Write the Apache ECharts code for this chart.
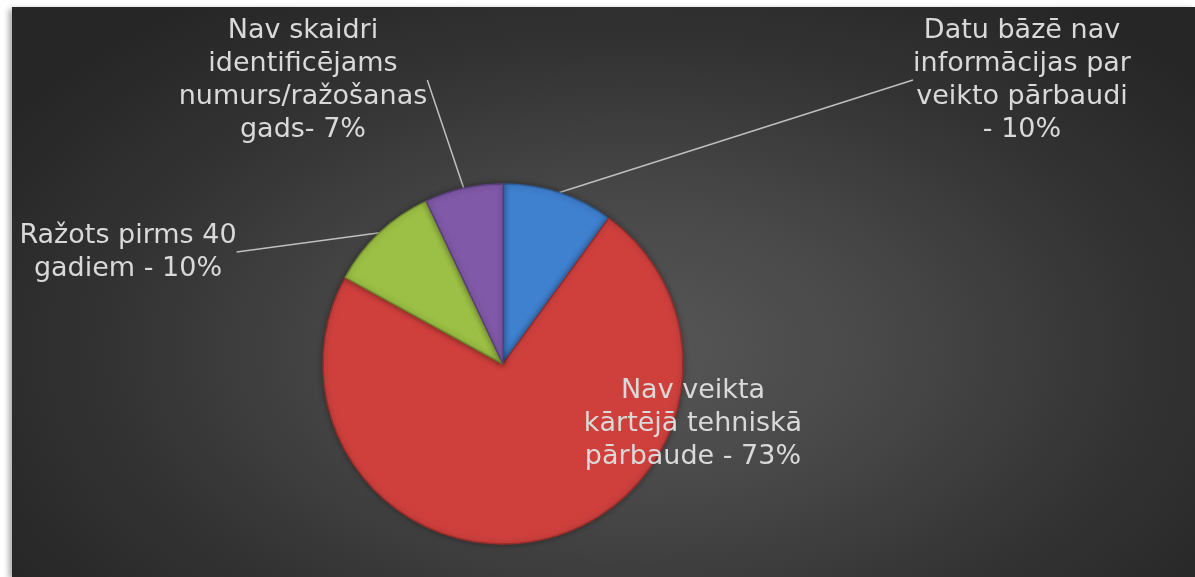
<!DOCTYPE html>
<html>
<head>
<meta charset="utf-8">
<script src="https://cdn.jsdelivr.net/npm/echarts@6/dist/echarts.min.js"></script>
<style>
  html, body { margin: 0; padding: 0; background: #ffffff; }
  #main {
    position: absolute; left: 12px; top: 7px; width: 1183px; height: 570px;
    background: radial-gradient(ellipse 62% 75% at 52% 60%, #575757 0%, #484848 35%, #333333 70%, #262626 100%);
    box-shadow: -3px 2px 6px rgba(0,0,0,0.35);
  }
</style>
</head>
<body>
<div id="main"></div>
<script>
// kategorijas (ar rindu pārnesumiem kā attēlā)
var categories = [
  'Datu bāzē nav\ninformācijas par\nveikto pārbaudi\n- 10%',
  'Nav veikta\nkārtējā tehniskā\npārbaude - 73%',
  'Ražots pirms 40\ngadiem - 10%',
  'Nav skaidri\nidentificējams\nnumurs/ražošanas\ngads- 7%'
];
var values = [10, 73, 10, 7];
var colors = ['#3f80cf', '#cf403d', '#9cc045', '#8059a8'];
var borders = ['#2d5e9c', '#9a2c2a', '#6f8a2c', '#5b3f7c'];

// etiķešu centri diagrammas koordinātēs
var labelPos = [[1010, 73], [681, 417], [116, 245], [291, 73]];

var myChart = echarts.init(document.getElementById('main'));

var seriesData = [];
for (var i = 0; i < values.length; i++) {
  seriesData.push({
    name: categories[i],
    value: values[i],
    itemStyle: { color: colors[i], borderColor: borders[i] },
    labelLine: { show: i !== 1 }
  });
}

var option = {
  backgroundColor: 'transparent',
  animation: false,
  series: [{
    type: 'pie',
    center: [491, 357],
    radius: [0, 180],
    startAngle: 90,
    clockwise: true,
    data: seriesData,
    itemStyle: {
      borderWidth: 1.5,
      shadowBlur: 6,
      shadowColor: 'rgba(0,0,0,0.35)'
    },
    label: {
      show: true,
      formatter: '{b}',
      color: '#d9d9d9',
      fontFamily: 'DejaVu Sans',
      fontSize: 27,
      lineHeight: 33,
      align: 'center'
    },
    labelLine: {
      show: true,
      length: 1,
      length2: 0,
      smooth: false,
      lineStyle: { color: '#bfbfbf', width: 1.5 }
    },
    labelLayout: function (params) {
      var p = labelPos[params.dataIndex];
      return {
        x: p[0],
        y: p[1],
        align: 'center',
        verticalAlign: 'middle'
      };
    }
  }]
};

myChart.setOption(option);
</script>
</body>
</html>
